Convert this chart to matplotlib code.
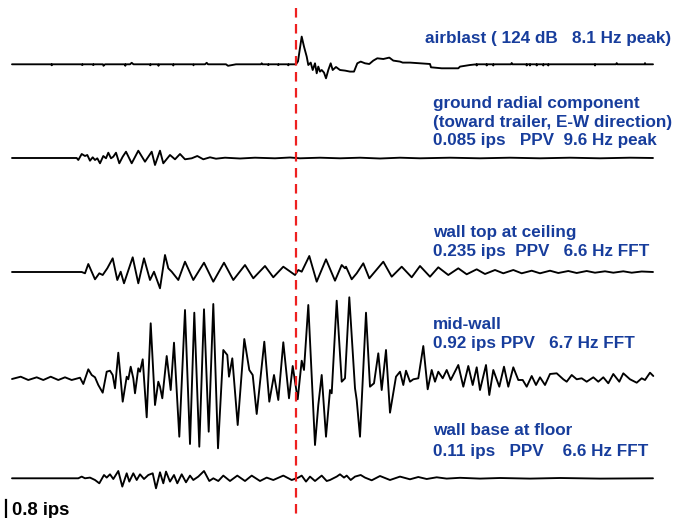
import matplotlib
matplotlib.use("Agg")
import matplotlib.pyplot as plt

# ---------------- data (time in display samples, amplitude in display units, + = up) -------------
airblast_t = [12, 51.5, 51.7, 52, 82, 82.3, 82.7, 93, 93.3, 93.7, 103, 103.5, 105, 125, 125.3, 125.7,
              130, 131.7, 133.5, 150, 150.3, 150.7, 158, 158.5, 159, 173, 173.3, 173.7, 193, 193.5, 194,
              205, 206.7, 208, 226, 228, 236, 261, 261.7, 262.3, 268, 268.3, 268.7, 278, 278.3, 278.7,
              288, 288.3, 288.7, 296, 298, 301.7, 304, 306.7, 308.3, 310.7, 312.7, 315, 316.7, 318.3,
              320, 321.7, 324, 326, 328.3, 330.7, 332.7, 336, 340, 345, 350, 354, 357.3, 360.7, 365,
              369.3, 373.3, 377.3, 383.3, 389.3, 393.3, 400, 402.7, 410, 430, 431, 441.7, 458.3, 460,
              470, 476.5, 476.7, 477, 486.5, 486.7, 487, 493, 493.3, 493.6, 511, 511.7, 512.4, 526.5,
              526.7, 527, 529.8, 530, 530.3, 536.5, 536.7, 537, 543, 543.3, 543.6, 548, 548.3, 548.6,
              594.7, 595, 595.3, 616, 616.7, 617.4, 644.7, 645, 645.3, 653]
airblast_v = [0, 0, -1, 0, 0, -0.8, 0, 0, -0.8, 0, 0, -1.5, 0, 0, -1.5, 0,
              0, 1.5, 0, 0, -1, 0, 0, -1.5, 0, 0, -1.2, 0, 0, -1, 0,
              0, 1.5, 0, 0, -1.5, 0, 0, 1, 0, 0, -0.8, 0, 0, -0.8, 0,
              0, -1, 0, 0, 3, 27.7, 17.7, 7.7, -0.7, 1.7, -5.7, 1, -9, -2.3,
              -7.3, -5.7, -8.3, -14, -5.7, 1, -5.7, -2.7, -5.7, -6.3, -7.3, -7.3, 1, 2.7, 1,
              0.3, 3.7, 6, 5.3, 6.7, 3.7, 2.7, 1.7, 1.7, 0.3, -3, -4, -4, -2.3,
              -0.7, 0, -1.2, 0, 0, -1.2, 0, 0, -1.2, 0, 0, 1.3, 0, 0,
              -1.2, 0, 0, -1.2, 0, 0, -1.2, 0, 0, -1.2, 0, 0, -1.2, 0,
              0, -1.2, 0, 0, 1.2, 0, 0, 1.2, 0, 0]

ground_t = [12, 76.7, 78.3, 81.7, 85, 87.3, 90, 92.7, 95, 97.3, 100, 103.3, 106, 108.3, 111, 113.3,
            116, 119.3, 122.7, 126, 131.7, 138.3, 145, 151.7, 155, 160, 163.3, 170, 175, 180, 185,
            191.7, 197.3, 203.3, 210, 216, 225, 240, 255, 275, 290, 300, 320, 340, 360, 380, 400,
            420, 450, 480, 510, 540, 570, 600, 630, 653]
ground_v = [0, 0, -2, 4, 2, 3, -2.7, 0.7, -2, -0.3, -5.3, 2, -0.3, 5.3, -0.3, 1.3,
            5.3, -5.3, 1.3, 6.3, -5.3, 7.3, -3.7, 6.3, -7, 7.3, -5.3, 3, -1.3, 4, -1.3,
            -0.3, 2, -1.3, 0.7, -0.7, 0.3, -0.5, 0.3, -0.3, 0.5, -0.3, 0.3, -0.3, 0.3, -0.5, 0.3,
            -0.3, 0.3, -0.3, 0.3, -0.3, 0.3, -0.3, 0.3, 0]

walltop_t = [12, 81.7, 85, 88.3, 95, 99.3, 102.7, 107.3, 112.7, 117.3, 120.7, 124, 132.7, 138.3, 144,
             150, 154, 160, 165, 168.3, 171.7, 178.3, 185, 193.3, 204, 213.3, 224, 233.3, 245, 253.3,
             265, 273.3, 283.3, 295, 298.3, 301.7, 309.3, 316.7, 326, 335, 341.7, 345, 346, 351.7,
             356.7, 363.3, 369.3, 383.3, 391.7, 401.7, 411.7, 420, 430, 438.3, 448.3, 458.3, 466.7,
             476.7, 485, 495, 503.3, 513.3, 521.7, 531.7, 540, 550, 558.3, 568.3, 576.7, 586.7, 595,
             605, 613.3, 623.3, 631.7, 641.7, 653]
walltop_v = [0, 0, -1.3, 8, -7.3, -1.3, -3, 3.7, 13.7, -8, 0.3, -11.3, 14.7, -11.3, 13.7,
             -8, 0.3, -16.3, 17, 3.7, 0.3, -8, 10.3, -8, 9.3, -9.7, 9.3, -8, 7, -6.3,
             6, -5.3, 5.3, -3, 2, 0.3, 16, -9.7, 12.7, -8.7, 7, 3.7, 5.3, -7.3,
             -1.3, 8.7, -6.3, 10.3, -4.7, 5.3, -5.3, 6, -4.7, 4.7, -3, 3.7, -2.3,
             2.7, -2, 2, -1.3, 2, -1.3, 1.3, -1.3, 1.3, -1, 1, -1, 1, -0.7,
             0.7, -0.7, 0.7, -0.7, 0.5, 0]

midwall_t = [12, 20.7, 28.3, 36.7, 43.3, 50.7, 58.3, 65, 71.7, 80, 83.3, 88.3, 91.7, 95, 98.3, 102.7,
             106.7, 110, 112.7, 115, 118.3, 122.7, 126.7, 128.3, 130.7, 133.3, 135, 138.3, 140, 142.7,
             146.7, 150.7, 155, 158.3, 160, 162.3, 166.7, 170.7, 174, 179.3, 185, 190, 194.3, 199.3,
             204, 208.7, 213.3, 218, 223.3, 227.3, 229, 232.3, 237.7, 244.3, 249.3, 252.7, 256.7,
             264.3, 269.3, 274, 278.3, 283.3, 289, 292.7, 297.7, 301.7, 304, 308.3, 315, 318.3, 321.7,
             326, 330, 331.7, 336.7, 341.7, 345, 349.3, 355, 356.7, 360, 366, 370, 374, 378.3, 381.7,
             386, 390, 396, 400, 403.3, 406, 410, 413.3, 418.3, 423.3, 427.7, 431.7, 435, 438.3,
             442.7, 446.7, 450.7, 458.3, 463.3, 468.3, 472.7, 476.7, 480, 486, 489.3, 493.3, 499.3,
             504, 508.3, 513.3, 518.3, 522.7, 526.7, 531.7, 536, 540, 545, 550, 556.7, 563.3, 566.7,
             571.7, 576.7, 581.7, 586.7, 593.3, 598.3, 603.3, 608.3, 613.3, 619.3, 623.3, 630, 636.7,
             641.7, 645, 650, 653.3]
midwall_v = [0, 2.3, -1, 1.7, -1, 2.3, -1, 1.7, -1, 1.3, -5, 9.7, 4, 1.7, -6, -13.7,
             7.3, 8.3, 4, -9.3, 26.3, -22.7, 2.3, -0.3, 12.3, 0.7, -14.3, 10.7, 7.3, 19.7,
             -38.3, 55.7, -26, -2.7, -7.7, -19.3, 23, -11, 36.3, -57.7, 69, -65, 66.3, -67.7,
             69.7, -52.7, 75, -69.3, 29, 24, 2.3, 20.7, -46, 40, 9, 4, -35,
             37.3, -22.7, 4, -21, 36.7, -19.3, 13, -20.3, 18.3, 9, 74, -66, -26, 4,
             -57.7, -11, -14.3, 78.3, -2.7, 0.7, 81.7, -9.3, -21, -57.7, 66.3, -7.7, -4.3, 25.7, -11,
             29, -33.7, 2.3, 7.3, -6, 8.3, -2.7, -0.3, 0.7, 33, -10.3, 9, -2.7, 7.3,
             0.7, 9, -1, 14, -7.7, 13, -6, 11.7, -11, 14, -16, 9, -7.7,
             12.3, -7.7, 11.7, -1, -1, -7.7, 3, -6, 1.7, -6, 5, 5.7, -0.3, -2.7,
             4, -0.3, 0.7, -2.7, 1.7, -2.7, 1.7, -4.3, 5, -2.7, 5.7, -0.3, -3.7,
             0.7, -1, 6.3, 3]

wallbase_t = [12, 78.3, 81.7, 85, 90, 95, 99.3, 104, 106.7, 110, 113.3, 118.3, 122.3, 126.7, 129.3,
              133.3, 136.7, 140, 144, 148.3, 152.7, 156, 160, 163.3, 166, 170, 174, 177.3, 181.7, 186,
              190, 193.3, 198.3, 204, 209.3, 213.3, 218.3, 223.3, 230, 237.3, 245, 251.7, 260, 266.7,
              273.3, 283.3, 291.7, 298.3, 301.7, 306, 310, 315, 321.7, 326.7, 330, 333.3, 336.7, 340,
              344, 346.7, 350.7, 355, 360.7, 365, 371.7, 380, 390, 400, 410, 418.3, 426.7, 436.7,
              446.7, 460, 480, 500, 530, 560, 600, 653]
wallbase_v = [0, 0, 1.7, 0, 0.7, -1.7, -5, 3.3, 0.7, 4, -0.7, 7.3, -8.3, 5, -3.3,
              5, -1.7, 4, -0.7, 3.3, 5, -10, 6, -5, 6.7, -3.3, 3.3, -5, 4, -4,
              2.7, -1.7, 1.7, 7.3, -2.7, 0, -2.7, 2.7, -2.7, 2.7, -2.7, 2.7, -2.7, 0.7,
              -1.7, 2.7, -1.7, 0.7, 2.7, -3.3, 1.7, -2.7, 2.7, -2.7, -1.7, 0, 1.7, 4,
              0.7, 2.7, -1.7, 1.7, 3.3, 0.7, -2, 2.3, -1.7, 1.7, -1, 1.3, -0.7, 1,
              -0.3, 0.5, -0.3, 0.3, -0.3, 0.3, -0.3, 0]

labels = [
    ["airblast ( 124 dB   8.1 Hz peak)"],
    ["ground radial component", "(toward trailer, E-W direction)", "0.085 ips   PPV  9.6 Hz peak"],
    ["wall top at ceiling", "0.235 ips  PPV   6.6 Hz FFT"],
    ["mid-wall", "0.92 ips PPV   6.7 Hz FFT"],
    ["wall base at floor", "0.11 ips   PPV    6.6 Hz FFT"],
]
scale_label = "0.8 ips"
event_time = 296

# ---------------- layout ----------------
W, H = 673, 518
fig = plt.figure(figsize=(W / 100, H / 100), dpi=100)
ax = fig.add_axes([0, 0, 1, 1])
ax.set_xlim(0, W)
ax.set_ylim(H, 0)
ax.axis("off")

traces = [(airblast_t, airblast_v, 64.3), (ground_t, ground_v, 158.0), (walltop_t, walltop_v, 272.0),
          (midwall_t, midwall_v, 379.0), (wallbase_t, wallbase_v, 478.3)]
for t, v, base in traces:
    ax.plot(t, [base - a for a in v], color="black", lw=1.35, solid_joinstyle="round",
            solid_capstyle="round", zorder=2)

ax.plot([event_time, event_time], [8, H], color="#ee2020", lw=1.6, dashes=(4.3, 2.9), zorder=3)

blue = "#173d9c"
font = dict(family=["Liberation Sans", "DejaVu Sans"], weight="bold", color=blue, fontsize=12.35)
label_pos = [(425, [43.3]), (432.7, [108, 126.5, 145]), (432.7, [236.7, 256]),
             (432.7, [329, 348]), (432.7, [435, 455.7])]
for lines, (x0, ys) in zip(labels, label_pos):
    for line, y in zip(lines, ys):
        ax.text(x0, y, line, ha="left", va="baseline", **font)

ax.plot([5.7, 5.7], [500, 517], color="black", lw=1.6)
ax.text(11.7, 515, scale_label, ha="left", va="baseline", family=["Liberation Sans", "DejaVu Sans"],
        weight="bold", color="black", fontsize=13.3)

fig.savefig("out.png", dpi=100)
